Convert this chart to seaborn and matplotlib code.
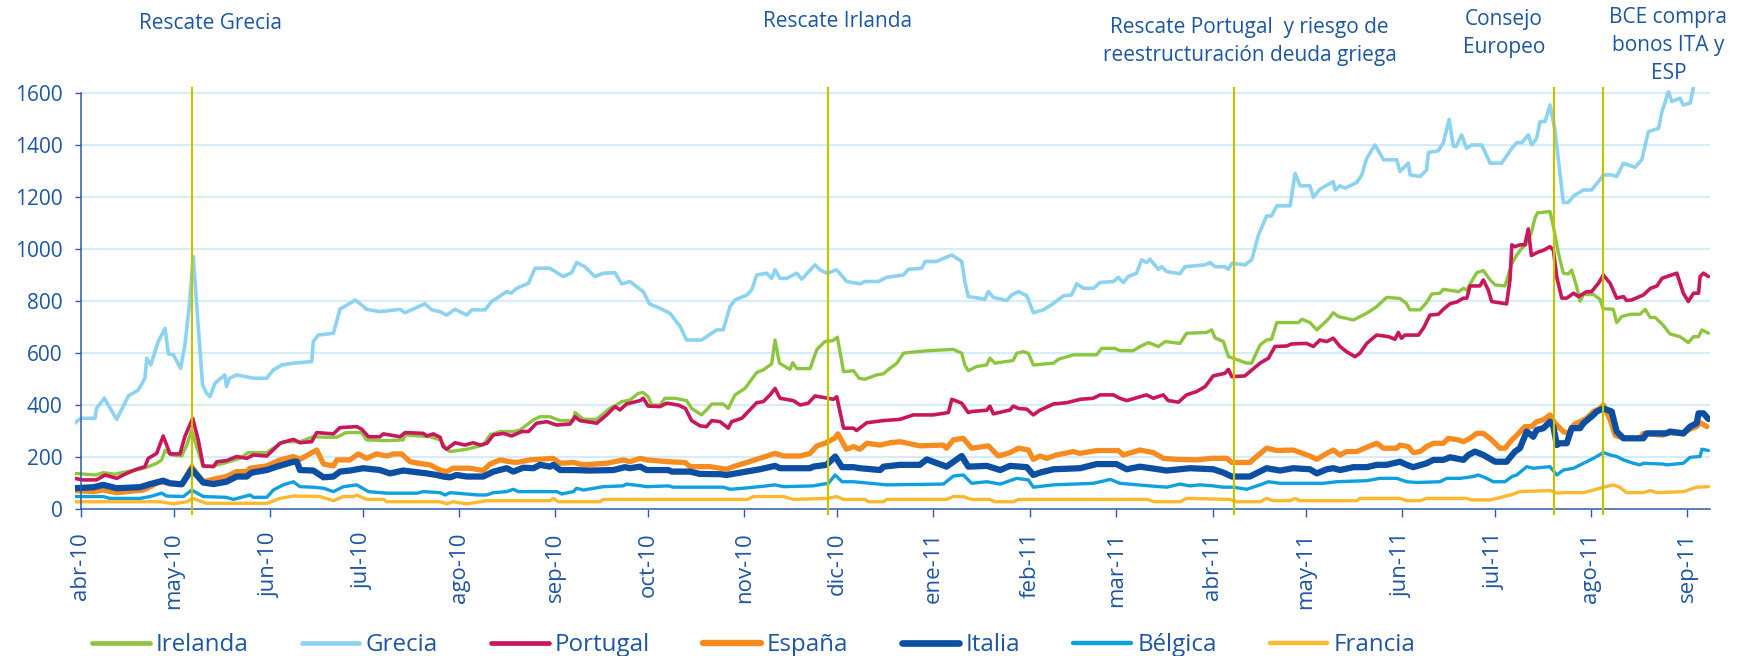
import pandas as pd
import numpy as np
import seaborn as sns
import matplotlib.pyplot as plt
import matplotlib.lines as mlines
import matplotlib.dates as mdates
import matplotlib.transforms as mtransforms

# Diferenciales soberanos frente a Alemania (pb).
# Fechas en dias contados desde el 1-abr-2010.
inicio = pd.Timestamp("2010-04-01")

dias_irlanda = [-2, 5, 7.3, 11, 14.8, 19.1, 21.8, 24.5, 26.1, 27.2, 29.3, 32.6, 34.2, 35.8, 37.4, 39.5, 42.8, 47, 51.4, 54, 60, 63.2, 65.3, 70.7, 75, 79.3, 82.6, 85.5, 90.6, 92.2, 98.7, 104, 104.6, 109.4, 112.6, 115.9, 118, 119.1, 124.5, 129.8, 132, 135.2, 139.5, 141.7, 146, 148.1, 151.3, 154.6, 158.9, 159.4, 162.1, 166.4, 170.6, 172.8, 174.4, 177.1, 179.8, 181.4, 183, 184.1, 186.8, 188.4, 191.6, 195.4, 197, 200.2, 201.8, 203.5, 207.2, 208.8, 211, 214.2, 218, 220.1, 222.8, 223.9, 225.3, 228.7, 229.6, 230.9, 235.2, 237.4, 240, 242.6, 244, 246, 249.2, 251, 252.9, 256.7, 258.8, 260.5, 263.2, 265.3, 266.9, 273.4, 281.4, 284.1, 285.1, 286.2, 288.9, 292.1, 293.2, 294.8, 300.7, 301.8, 303.9, 305.6, 307.2, 313.7, 315.3, 320.1, 327.6, 329.2, 333.5, 335.1, 339.4, 341.6, 344.3, 347.5, 349.7, 354.5, 356.6, 363.1, 364.7, 365.8, 368.5, 370.1, 373.3, 376, 377.6, 380.3, 382.4, 384, 385.7, 392.7, 393.8, 396.4, 398.6, 402.3, 403.9, 405.6, 410.4, 412, 414.7, 417.9, 421.1, 425.4, 427.5, 428.6, 431.9, 434, 435.7, 438.3, 439.4, 442, 444.3, 445.9, 447, 448.5, 450.2, 452.3, 454.5, 456.1, 459.3, 461.5, 463.1, 464.7, 466, 467.7, 469, 469.8, 473.8, 474.9, 476.5, 478.1, 479.7, 480.8, 482.4, 483.5, 484.6, 487.8, 489.9, 490.9, 494.2, 495.3, 496.9, 499.6, 502.8, 504.5, 506.1, 507.7, 510.3, 512.5, 515.7, 518.4, 520.1, 521.7, 522.8, 524.9]
irlanda = [138, 132, 141, 135, 145, 154, 164, 177, 190, 226, 209, 205, 247, 305, 241, 164, 167, 180, 196, 218, 218, 244, 260, 260, 279, 277, 277, 295, 295, 267, 264, 267, 286, 282, 279, 267, 231, 222, 231, 247, 286, 299, 299, 305, 344, 356, 356, 341, 341, 372, 346, 346, 388, 401, 414, 420, 446, 449, 433, 401, 401, 427, 427, 418, 388, 363, 382, 405, 405, 388, 440, 465, 526, 536, 559, 651, 562, 538, 564, 541, 541, 615, 645, 649, 662, 529, 533, 504, 500, 517, 521, 538, 562, 600, 603, 610, 615, 600, 555, 533, 549, 555, 581, 562, 572, 600, 606, 600, 555, 562, 577, 594, 594, 619, 619, 610, 610, 626, 641, 626, 645, 638, 677, 680, 690, 659, 645, 587, 574, 562, 562, 632, 651, 654, 718, 718, 731, 718, 690, 731, 756, 741, 728, 738, 754, 779, 815, 811, 792, 767, 767, 795, 828, 831, 846, 841, 837, 850, 843, 876, 910, 918, 882, 863, 859, 946, 978, 1004, 1017, 1060, 1122, 1140, 1145, 1087, 985, 908, 905, 920, 856, 800, 826, 826, 808, 772, 769, 718, 741, 750, 750, 769, 738, 738, 708, 674, 664, 641, 664, 664, 690, 677]

dias_grecia = [-2, 0, 4.6, 5.1, 7.6, 11.6, 15.4, 18.6, 20.7, 21.3, 22.6, 25, 27.2, 28.3, 29.9, 32.2, 33.6, 35, 36.3, 37.6, 39.3, 40.6, 41.7, 43.3, 46.5, 47, 48, 50.3, 55.7, 60, 62.1, 64.8, 68.6, 74.5, 75, 76.6, 81.5, 83.6, 86.8, 88.5, 90.6, 92.2, 96.5, 103, 104.6, 111, 113.2, 115.9, 118, 120.7, 124.5, 126.1, 130.4, 132.5, 137.4, 138.9, 140.6, 144.4, 146.5, 151.3, 155.6, 158.3, 159.9, 162.6, 165.8, 168.5, 172.3, 174.4, 177.1, 181.4, 183.4, 186.8, 190, 193.3, 195.4, 200.2, 205.1, 207.2, 209.4, 211, 214.8, 216.4, 218, 221.2, 222.8, 223.9, 225.5, 227.6, 230.9, 232.5, 236.8, 238.4, 240.6, 243.8, 247, 251.3, 252.9, 257.2, 259.9, 265.3, 266.9, 271.2, 272.3, 276, 278.2, 280.9, 284.1, 285.1, 286.2, 291.6, 292.7, 294.3, 298.6, 300.2, 302.4, 305.1, 307.2, 310.4, 313.7, 316.9, 319.5, 321.2, 323.4, 326.6, 328.7, 333, 334.6, 336.2, 337.8, 340.5, 342.1, 343.7, 344.8, 347.5, 348.6, 350.2, 354.5, 356.1, 362.6, 364.2, 365.8, 369, 370.1, 371.2, 375.4, 377.6, 379.8, 382.4, 384, 385.7, 390, 391.6, 393.2, 396.4, 397.5, 399.6, 403.9, 404.5, 406.1, 407.7, 411.5, 413.1, 414.7, 417.4, 420.1, 424.4, 425.4, 428.1, 428.7, 431.9, 434, 434.6, 437.8, 439.4, 441.3, 442.6, 443.5, 445.3, 446.9, 448.5, 451.8, 454.5, 458.2, 461.5, 463.1, 464.7, 466.8, 467.9, 469.5, 470.6, 472.2, 473.8, 475.4, 476.5, 478.1, 479.7, 481.4, 484.6, 487.2, 489.4, 491, 493.7, 495.3, 497.5, 501.2, 503.4, 505.5, 508.8, 509.9, 512, 513.1, 515.7, 516.8, 519, 520.1, 521.5, 524.5]
grecia = [331, 350, 350, 388, 427, 346, 436, 459, 504, 581, 555, 645, 696, 597, 594, 542, 632, 780, 972, 754, 478, 446, 433, 485, 517, 472, 504, 517, 504, 504, 536, 555, 562, 568, 645, 670, 677, 770, 792, 805, 786, 769, 760, 769, 756, 790, 767, 760, 747, 769, 747, 767, 767, 799, 837, 832, 850, 869, 927, 927, 895, 910, 949, 933, 895, 908, 910, 867, 876, 837, 790, 773, 754, 703, 651, 651, 690, 690, 780, 805, 824, 844, 901, 908, 888, 921, 888, 888, 908, 885, 940, 921, 908, 921, 876, 867, 876, 876, 892, 901, 923, 927, 953, 953, 965, 978, 953, 876, 818, 808, 837, 815, 803, 824, 837, 821, 756, 767, 792, 821, 824, 867, 850, 850, 872, 876, 892, 872, 895, 908, 959, 949, 962, 923, 933, 914, 906, 933, 940, 949, 933, 933, 923, 946, 940, 959, 1055, 1128, 1128, 1167, 1167, 1292, 1244, 1244, 1200, 1231, 1260, 1228, 1244, 1235, 1257, 1286, 1350, 1401, 1344, 1344, 1299, 1331, 1286, 1280, 1305, 1372, 1379, 1410, 1500, 1397, 1395, 1440, 1388, 1401, 1401, 1331, 1331, 1388, 1410, 1410, 1440, 1401, 1427, 1491, 1491, 1555, 1459, 1344, 1180, 1180, 1205, 1228, 1228, 1260, 1286, 1286, 1280, 1331, 1315, 1344, 1452, 1465, 1529, 1606, 1568, 1581, 1555, 1562, 1626, 1690, 1700]

dias_portugal = [-2, 0.8, 5.1, 7.8, 11.6, 14.8, 18, 20.7, 21.8, 24.5, 26.6, 28.8, 32, 33.6, 36.1, 37.9, 39.5, 42.8, 43.9, 47, 50.3, 53.5, 55.7, 60, 64.3, 68.6, 70.7, 74.5, 76.1, 81.5, 83.6, 89, 90.6, 92.8, 96.5, 97.6, 103, 104.6, 110.5, 111.6, 113.7, 115.9, 116.9, 118, 120.7, 123.9, 126.6, 128.8, 131, 133.1, 136.3, 139, 142.2, 144.4, 147, 150.3, 153.5, 157.8, 159.4, 161, 166.4, 169.6, 172.3, 173.9, 176, 180.4, 181.4, 183, 186.8, 189, 192.7, 195, 197, 199.7, 201.8, 203.5, 206.2, 208.8, 209.9, 213.2, 215.3, 218, 220.1, 222.3, 223.9, 225.5, 229.8, 232, 234.6, 236.8, 239, 242.7, 243.8, 246, 249.2, 250.2, 253.5, 258.8, 264.2, 268.5, 274.9, 279.8, 280.9, 284.1, 286.2, 287.3, 292.2, 293.2, 294.3, 299.7, 300.7, 302.4, 305.1, 307.2, 309.3, 313.7, 318, 322.3, 326.5, 328.7, 333, 335.1, 337.3, 341.6, 343.7, 345.9, 349.1, 350.7, 354, 356.6, 359.9, 362.6, 365.2, 369, 370.1, 371.2, 375.4, 377, 380.3, 383, 385.1, 388.9, 390.5, 395.3, 397.5, 399.6, 401.8, 403.9, 406.1, 408.2, 410.9, 412.5, 414.7, 417.9, 421.7, 423.8, 424.9, 425.9, 427, 431.4, 433, 435.1, 437.8, 439.4, 441.6, 443.7, 445.9, 447, 448, 451.2, 452.3, 453.9, 455, 459.8, 460.9, 461.5, 462.5, 464.1, 465.7, 466.8, 467.8, 469.9, 471.7, 473.8, 474.9, 476, 477.6, 479.2, 481.4, 483, 485.6, 487.2, 489.4, 491, 493.2, 495.3, 497.5, 498.5, 500.1, 503.9, 506.1, 508.3, 509.9, 511.5, 514.7, 516.8, 518.4, 520.1, 521.7, 522.2, 523.3, 524.9]
portugal = [119, 113, 113, 132, 119, 138, 154, 164, 196, 215, 282, 213, 213, 280, 350, 267, 167, 164, 183, 187, 203, 196, 209, 205, 254, 269, 256, 260, 295, 290, 314, 318, 308, 279, 279, 290, 279, 295, 292, 282, 290, 277, 241, 231, 256, 247, 256, 247, 254, 286, 292, 282, 299, 299, 331, 337, 324, 328, 356, 341, 331, 363, 395, 382, 405, 418, 427, 397, 395, 408, 401, 388, 341, 321, 318, 341, 337, 312, 337, 350, 376, 410, 414, 440, 465, 427, 418, 401, 408, 436, 431, 423, 433, 312, 312, 303, 333, 341, 346, 363, 363, 372, 423, 408, 372, 376, 381, 397, 367, 382, 397, 388, 385, 363, 381, 405, 410, 423, 427, 440, 440, 427, 418, 433, 440, 427, 440, 418, 412, 440, 453, 472, 513, 523, 538, 510, 513, 529, 562, 581, 626, 628, 636, 638, 626, 651, 645, 658, 626, 606, 587, 600, 638, 670, 664, 654, 680, 658, 670, 670, 697, 747, 750, 769, 791, 797, 812, 812, 859, 859, 882, 843, 799, 790, 882, 1017, 1010, 1017, 1017, 1078, 976, 989, 996, 1010, 996, 892, 812, 812, 831, 818, 837, 837, 869, 901, 869, 812, 818, 803, 805, 824, 849, 859, 888, 895, 908, 831, 799, 831, 831, 895, 908, 895]

dias_espana = [-2, 4.1, 7.3, 11.6, 20.2, 25.6, 28.8, 32.6, 35.8, 39.5, 43.9, 47, 50.3, 53.5, 54.6, 60, 64.3, 68.6, 70.7, 76.1, 78.3, 81.5, 82.6, 86.8, 89.5, 92.2, 95.4, 98.7, 100.9, 103.5, 106.2, 110.5, 112.6, 115.9, 118, 120.1, 125.5, 129.8, 132, 135.2, 138.4, 140.6, 144.9, 152.4, 154.6, 158.9, 162.1, 169.6, 175, 177.1, 180.4, 182.5, 189.5, 194.9, 196.5, 202.9, 208.3, 210.4, 214.8, 219, 223.9, 226.6, 232, 235.2, 237.4, 240, 243.1, 244.2, 246.9, 249.2, 251.3, 253.5, 257.8, 261, 264.2, 270.6, 278.2, 279.2, 281.4, 284.6, 287.3, 292.7, 295.9, 299.7, 302.4, 305.6, 307.2, 309.3, 311.5, 314.7, 320.1, 322.2, 327.6, 334.6, 336.2, 341.6, 345.9, 349.1, 353.4, 359.9, 364.7, 369.6, 371.2, 377, 379.2, 382.4, 385.7, 391, 396.4, 398.6, 401.8, 403.9, 406.1, 408.2, 411.5, 415.8, 418, 420.1, 424.4, 425.4, 428.1, 429.7, 431.9, 434, 436.2, 439.4, 441, 444.3, 445.9, 448, 450.2, 452.3, 455, 457.7, 459.3, 461.5, 463.1, 465.7, 467.8, 469.5, 471.7, 473.8, 475.4, 478.1, 479.7, 481.4, 483.5, 485.6, 487.8, 489.9, 491, 493.2, 494.8, 497.5, 502.8, 503.9, 510.3, 511.4, 516.8, 518.4, 521.1, 522.2, 524.4]
espana = [72, 68, 74, 64, 74, 106, 100, 97, 164, 106, 119, 126, 145, 145, 158, 167, 190, 203, 192, 228, 174, 167, 190, 190, 213, 196, 213, 205, 213, 213, 183, 174, 171, 151, 145, 158, 158, 149, 174, 190, 183, 180, 190, 196, 177, 180, 171, 177, 190, 183, 196, 190, 183, 180, 164, 164, 154, 164, 180, 196, 215, 205, 205, 215, 244, 254, 273, 290, 231, 241, 231, 254, 247, 256, 260, 244, 247, 235, 267, 273, 235, 244, 205, 218, 235, 228, 192, 205, 196, 209, 222, 215, 226, 226, 209, 228, 218, 196, 192, 190, 196, 196, 180, 180, 203, 235, 226, 228, 205, 192, 215, 228, 209, 222, 222, 244, 254, 235, 235, 247, 241, 218, 222, 241, 254, 254, 273, 267, 260, 273, 292, 292, 267, 235, 235, 267, 285, 318, 318, 337, 344, 363, 331, 299, 292, 324, 337, 350, 376, 388, 401, 344, 285, 273, 273, 292, 285, 295, 290, 305, 318, 333, 318]

dias_italia = [-2, 4.1, 7.3, 11.6, 19.1, 22.4, 26.6, 28.8, 32.6, 35.8, 39.5, 42.8, 47, 50.3, 53.5, 55.1, 60, 63.2, 68.6, 69.7, 70.7, 75, 78.3, 81.5, 83.6, 86.8, 91.1, 96.5, 99.7, 104, 111.6, 114.8, 116.9, 119.1, 121.2, 124.5, 129.8, 133.1, 137.4, 139.5, 142.7, 146, 148.1, 151.3, 152.4, 154.6, 158.9, 164.2, 171.8, 175.5, 177.1, 180.4, 182.5, 189.5, 190.6, 196.5, 199.7, 206.2, 208.3, 212.6, 219, 223.9, 225.5, 235.2, 236.2, 240.5, 243.3, 245.5, 249.2, 251.3, 257.8, 258.9, 264.2, 270.6, 272.8, 279.2, 284.1, 286.2, 292.2, 296.5, 299.7, 305.1, 307.2, 309.3, 313.7, 322.3, 327.6, 334, 337.3, 341.6, 350.2, 354.5, 357.7, 365.2, 368.5, 371.2, 377, 382.4, 386.7, 391, 396.4, 398.6, 401.8, 403.9, 406.1, 410.4, 414.7, 418, 421.1, 423.3, 425.4, 427.6, 429.7, 434, 436.2, 439.4, 441.6, 445.9, 447.5, 449.6, 452.3, 456.1, 459.8, 462.5, 464.1, 466.3, 468.4, 469.5, 471.7, 473.8, 474.9, 476, 477, 479.2, 480.8, 483.5, 484.6, 487.8, 488.9, 491, 493.7, 495.3, 497.5, 503.9, 505, 511.4, 512.5, 516.8, 519, 521.1, 521.7, 523.3, 524.9]
italia = [81, 85, 94, 81, 85, 97, 110, 100, 96, 154, 103, 97, 106, 126, 126, 141, 151, 164, 183, 183, 151, 149, 123, 126, 145, 149, 158, 151, 138, 149, 138, 132, 126, 123, 132, 126, 126, 145, 158, 145, 160, 158, 171, 164, 171, 151, 151, 149, 151, 162, 158, 164, 151, 151, 145, 145, 136, 135, 132, 141, 154, 167, 158, 158, 164, 171, 203, 162, 162, 158, 151, 164, 171, 171, 192, 164, 205, 164, 167, 151, 167, 162, 132, 141, 154, 158, 174, 174, 154, 164, 149, 154, 158, 154, 141, 126, 126, 158, 149, 158, 154, 138, 154, 158, 151, 162, 162, 171, 171, 177, 183, 171, 162, 177, 190, 190, 200, 190, 209, 222, 209, 183, 183, 222, 235, 299, 279, 305, 312, 337, 318, 247, 254, 254, 312, 312, 331, 363, 376, 388, 376, 299, 273, 273, 292, 292, 299, 292, 318, 331, 369, 369, 347]

dias_belgica = [-2, 7.3, 9.4, 19.1, 22.4, 26.1, 27.7, 33.1, 35.8, 39.5, 47, 49.2, 54.6, 55.7, 60, 62.1, 65.3, 68.6, 70.7, 75, 78.3, 81.5, 84.7, 89, 92.8, 98.7, 108.4, 110.5, 115.9, 117.5, 119.1, 128.2, 130.9, 133.1, 137.4, 139.5, 141.1, 153.5, 155.1, 158.9, 159.9, 162.1, 168.5, 174.9, 176, 180.9, 182.5, 189.5, 191.1, 207.2, 209.4, 213.7, 221.2, 223.9, 226.6, 236.2, 239.5, 241.1, 243.3, 245.5, 249.2, 254.6, 259.9, 278.2, 281.4, 284.6, 287.3, 292.2, 296.5, 301.8, 305.6, 307.2, 313.7, 326.6, 332, 335.1, 344.8, 350.2, 354.5, 357.7, 360.9, 365.2, 368.5, 371.7, 376, 380.3, 383, 386.7, 400.7, 405, 414.7, 418.9, 424.4, 427.6, 430.9, 438.3, 440.5, 444.8, 449.1, 450.7, 453.4, 455.5, 459.3, 461.5, 463.1, 466.3, 468.4, 473.8, 476, 478.1, 481.4, 484.6, 487.8, 491, 493.2, 495.3, 497.5, 500.7, 502.8, 503.9, 510.3, 511.4, 516.8, 519, 522.2, 522.8, 524.9]
belgica = [49, 49, 42, 42, 49, 62, 51, 49, 74, 49, 46, 38, 55, 46, 46, 74, 94, 106, 87, 85, 81, 68, 87, 94, 68, 62, 62, 68, 64, 55, 64, 55, 55, 64, 68, 77, 68, 68, 59, 68, 81, 74, 87, 90, 97, 90, 87, 90, 85, 85, 77, 81, 90, 94, 87, 90, 97, 100, 132, 106, 106, 100, 94, 97, 128, 132, 100, 106, 97, 119, 113, 85, 94, 100, 115, 100, 90, 85, 97, 90, 94, 90, 85, 85, 77, 94, 106, 100, 100, 106, 110, 119, 119, 106, 103, 106, 119, 119, 126, 132, 119, 106, 106, 126, 132, 164, 158, 164, 132, 151, 158, 177, 196, 218, 209, 203, 190, 177, 171, 177, 174, 171, 177, 200, 203, 231, 226]

dias_francia = [-2, 25.6, 29.9, 34.2, 36.1, 40.6, 60, 64.3, 68.6, 77.2, 81.5, 84.7, 88, 89, 92.2, 97.6, 98.7, 115.9, 118, 120.1, 124.5, 125.5, 130.9, 151.3, 152.4, 154, 167.4, 168.5, 215, 216.9, 226.6, 229.8, 240.6, 243.8, 246, 252.9, 254, 259, 259.9, 279.2, 281.4, 284.6, 287.3, 293.2, 294.8, 300.7, 302.4, 343.7, 346.4, 354.5, 356.6, 370.6, 372.8, 380.3, 382.4, 384.6, 390, 391.6, 393.2, 411.5, 412.5, 425.4, 427.6, 431.9, 434, 447, 448.5, 454.5, 461, 464.1, 473.8, 476, 478.1, 484.6, 487.8, 491, 494.2, 496.3, 498.5, 503.9, 506.1, 508.3, 516.8, 521.1, 524.9]
francia = [29, 29, 21, 29, 42, 23, 23, 42, 51, 49, 33, 49, 49, 55, 38, 38, 29, 29, 21, 29, 21, 23, 33, 33, 42, 29, 29, 38, 38, 49, 49, 38, 42, 49, 38, 38, 29, 29, 38, 38, 49, 49, 38, 38, 29, 29, 38, 38, 29, 29, 42, 38, 29, 29, 42, 33, 33, 42, 33, 33, 42, 42, 33, 33, 42, 42, 36, 36, 55, 68, 72, 62, 64, 64, 74, 85, 94, 85, 64, 64, 72, 64, 68, 85, 87]

paises = ["Irelanda", "Grecia", "Portugal", "España", "Italia", "Bélgica", "Francia"]
meses = ["abr-10", "may-10", "jun-10", "jul-10", "ago-10", "sep-10", "oct-10", "nov-10",
         "dic-10", "ene-11", "feb-11", "mar-11", "abr-11", "may-11", "jun-11", "jul-11",
         "ago-11", "sep-11"]

# eventos: fecha de la linea vertical, fecha centro del texto, texto
eventos_fecha = ["2010-05-07", "2010-11-28", "2011-04-08", "2011-07-20", "2011-08-05"]
eventos_texto_fecha = ["2010-05-13", "2010-12-01", "2011-04-13", "2011-07-04", "2011-08-26"]
eventos_texto = ["Rescate Grecia", "Rescate Irlanda",
                 "Rescate Portugal  y riesgo de\nreestructuración deuda griega",
                 "Consejo\nEuropeo", "BCE compra\nbonos ITA y\nESP"]
eventos_base_px = [29.3, 26.7, 33.3, 25, 23.3]   # linea base primera fila (px desde arriba)

colores = {"Irelanda": "#8CC63F", "Grecia": "#8CD3F2", "Portugal": "#C8175D",
           "España": "#F68B1F", "Italia": "#0B4EA2", "Bélgica": "#0FA0E0",
           "Francia": "#FDB92E"}
grosor = {"Irelanda": 2.4, "Grecia": 2.6, "Portugal": 2.6, "España": 3.8,
          "Italia": 4.5, "Bélgica": 2.4, "Francia": 2.4}
grosor_leyenda = {"Irelanda": 3.4, "Grecia": 3.4, "Portugal": 3.4, "España": 4.6,
                  "Italia": 4.8, "Bélgica": 3.2, "Francia": 3.2}
azul_texto = "#1D56A3"
azul_eje = "#2B5DA9"
color_evento = "#C3C300"
color_grid = "#C8E8F6"

series = {"Irelanda": (dias_irlanda, irlanda), "Grecia": (dias_grecia, grecia),
          "Portugal": (dias_portugal, portugal), "España": (dias_espana, espana),
          "Italia": (dias_italia, italia), "Bélgica": (dias_belgica, belgica),
          "Francia": (dias_francia, francia)}

frames = []
for p in paises:
    d, v = series[p]
    frames.append(pd.DataFrame({"fecha": inicio + pd.to_timedelta(d, unit="D"),
                                "pb": v, "pais": p}))
df = pd.concat(frames, ignore_index=True)

sns.set_style("white")
plt.rcParams['font.family'] = ['Open Sans', 'DejaVu Sans']

W, H = 1737, 656
fig = plt.figure(figsize=(W / 100, H / 100), dpi=100)
ax = fig.add_axes([74.5 / W, (H - 509.3) / H, (1709.7 - 74.5) / W, (509.3 - 87) / H])

x_ini = inicio - pd.Timedelta(days=2)
x_fin = inicio + pd.Timedelta(days=525.3)
ymax = 1624

# rejilla horizontal
ax.hlines(range(200, 1601, 200), inicio, x_fin, color=color_grid, lw=1.1, zorder=0)

sns.lineplot(data=df, x="fecha", y="pb", hue="pais", size="pais",
             hue_order=paises, size_order=paises, palette=colores, sizes=grosor,
             estimator=None, sort=False, legend=False, ax=ax,
             solid_joinstyle="round", solid_capstyle="round")

ax.vlines(pd.to_datetime(eventos_fecha), -22, ymax, colors=color_evento, lw=1.6,
          clip_on=False, zorder=6)

ax.set_xlim(x_ini, x_fin)
ax.set_ylim(0, ymax)
ax.set_xlabel("")
ax.set_ylabel("")

ax.set_yticks(range(0, 1601, 200))
ax.set_yticklabels([str(v) for v in range(0, 1601, 200)])
ticks_x = pd.date_range("2010-04-01", "2011-09-01", freq="MS")
ax.set_xticks(ticks_x)
ax.set_xticklabels(meses, rotation=90)

for s in ["top", "right"]:
    ax.spines[s].set_visible(False)
ax.spines["left"].set_position(("data", mdates.date2num(inicio)))
ax.spines["left"].set_bounds(0, 1600)
ax.spines["bottom"].set_bounds(mdates.date2num(inicio), mdates.date2num(x_fin))
for s in ["left", "bottom"]:
    ax.spines[s].set_color(azul_eje)
    ax.spines[s].set_linewidth(1.1)

ax.tick_params(axis="y", direction="out", length=4, width=1, color=azul_eje,
               labelcolor=azul_texto, labelsize=15, pad=9, left=True)
ax.tick_params(axis="x", direction="out", length=6, width=1, color=azul_eje,
               labelcolor=azul_texto, labelsize=16, pad=10.5, bottom=True)

# textos de los eventos
trans = mtransforms.blended_transform_factory(ax.transData, fig.transFigure)
paso_px = 28
for f, txt, y0 in zip(eventos_texto_fecha, eventos_texto, eventos_base_px):
    for i, linea in enumerate(txt.split("\n")):
        ax.text(pd.Timestamp(f), 1 - (y0 + i * paso_px) / H, linea, transform=trans,
                ha="center", va="baseline", fontsize=15, color=azul_texto)

# leyenda
handles = [mlines.Line2D([], [], color=colores[p], lw=grosor_leyenda[p], label=p)
           for p in paises]
fig.legend(handles=handles, loc="center left", bbox_to_anchor=(92 / W, 1 - 645 / H),
           ncol=7, frameon=False, handlelength=2.38, handletextpad=0.26,
           columnspacing=2.2, borderpad=0, borderaxespad=0,
           prop={"size": 17.4}, labelcolor=azul_texto)

fig.savefig("out.png", dpi=100)
